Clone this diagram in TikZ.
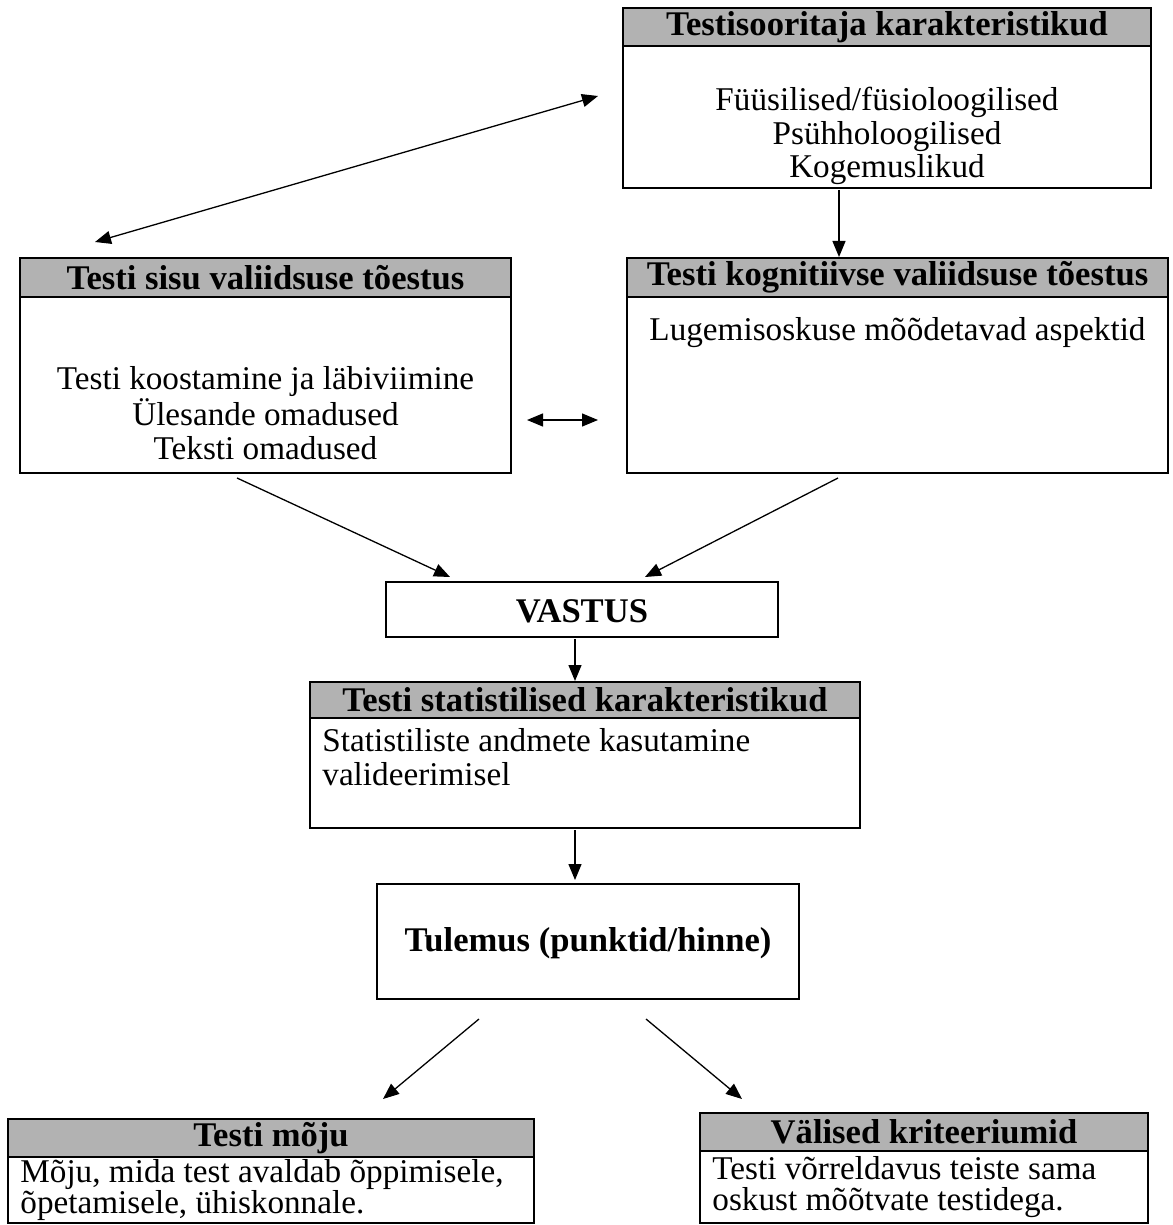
\documentclass[tikz,border=0pt]{standalone}
\usepackage{fontspec}
\setmainfont{Liberation Serif}
\usetikzlibrary{arrows.meta,fit}
\definecolor{hdrgray}{RGB}{178,178,178}
\begin{document}
\begin{tikzpicture}[x=0.5pt,y=-0.5pt,
  frame/.style={draw=black,line width=1pt,inner sep=0pt},
  hdr/.style={draw=black,fill=hdrgray,line width=1pt,inner sep=0pt},
  ttl/.style={font=\fontsize{17.3}{17}\selectfont\bfseries,inner sep=0pt},
  txt/.style={font=\fontsize{16.6}{16.9}\selectfont,align=center,inner sep=0pt},
  ltxt/.style={font=\fontsize{16.6}{16.9}\selectfont,align=left,inner sep=0pt,anchor=west},
  ntxt/.style={font=\fontsize{16.6}{15.2}\selectfont,align=left,inner sep=0pt,anchor=west},
  tip/.tip={Triangle[length=8pt,width=6.5pt]},
  conn/.style={line width=0.65pt,-tip},
  bconn/.style={line width=0.65pt,tip-tip}]
\useasboundingbox (0,0) rectangle (1172,1225);

% Testisooritaja karakteristikud
\node[frame,fit={(623,8) (1151,188)}] (A) {};
\node[hdr,fit={(623,8) (1151,46)}] (Ah) {};
\node[ttl] (At) at (Ah.center) {Testisooritaja karakteristikud};
\node[txt] (Ab) at (887,136) {Füüsilised/füsioloogilised\\Psühholoogilised\\Kogemuslikud};

% Testi sisu valiidsuse tõestus
\node[frame,fit={(20,258) (511,473)}] (B) {};
\node[hdr,fit={(20,258) (511,297)}] (Bh) {};
\node[ttl] (Bt) at (Bh.center) {Testi sisu valiidsuse tõestus};
\node[txt] (Bb) at (265.5,413) {Testi koostamine ja läbiviimine\\Ülesande omadused\\Teksti omadused};

% Testi kognitiivse valiidsuse tõestus
\node[frame,fit={(627,258) (1168,473)}] (C) {};
\node[hdr,fit={(627,258) (1168,297)}] (Ch) {};
\node[ttl] (Ct) at (Ch.center) {Testi kognitiivse valiidsuse tõestus};
\node[txt] (Cb) at (897.5,333) {Lugemisoskuse mõõdetavad aspektid};

% VASTUS
\node[frame,fit={(386,582) (778,637)}] (V) {};
\node[ttl] (Vt) at (582,611) {VASTUS};

% Testi statistilised karakteristikud
\node[frame,fit={(310,682) (860,828)}] (S) {};
\node[hdr,fit={(310,682) (860,718)}] (Sh) {};
\node[ttl] (St) at (Sh.center) {Testi statistilised karakteristikud};
\node[ltxt] (Sb) at (322,757) {Statistiliste andmete kasutamine\\valideerimisel};

% Tulemus
\node[frame,fit={(377,884) (799,999)}] (T) {};
\node[ttl] (Tt) at (588,943) {Tulemus (punktid/hinne)};

% Testi mõju
\node[frame,fit={(8,1119) (534,1223)}] (M) {};
\node[hdr,fit={(8,1119) (534,1157)}] (Mh) {};
\node[ttl] (Mt) at (Mh.center) {Testi mõju};
\node[ntxt] (Mb) at (20,1190) {Mõju, mida test avaldab õppimisele,\\õpetamisele, ühiskonnale.};

% Välised kriteeriumid
\node[frame,fit={(700,1113) (1148,1223)}] (W) {};
\node[hdr,fit={(700,1113) (1148,1151)}] (Wh) {};
\node[ttl] (Wt) at (Wh.center) {Välised kriteeriumid};
\node[ntxt] (Wb) at (712,1187) {Testi võrreldavus teiste sama\\oskust mõõtvate testidega.};

% connector end points
\coordinate (d1) at (598,96);
\coordinate (d2) at (95,242);
\coordinate (ac1) at (839,190);
\coordinate (ac2) at (839,257);
\coordinate (h1) at (527,420);
\coordinate (h2) at (598,420);
\coordinate (bv1) at (237,478);
\coordinate (bv2) at (450,577);
\coordinate (cv1) at (838,478);
\coordinate (cv2) at (645,577);
\coordinate (vs1) at (575,639);
\coordinate (vs2) at (575,681);
\coordinate (st1) at (575,830);
\coordinate (st2) at (575,880);
\coordinate (tm1) at (479,1019);
\coordinate (tm2) at (383,1099);
\coordinate (tw1) at (646,1019);
\coordinate (tw2) at (742,1099);

\draw[bconn] (d1) -- (d2);
\draw[conn] (ac1) -- (ac2);
\draw[bconn] (h1) -- (h2);
\draw[conn] (bv1) -- (bv2);
\draw[conn] (cv1) -- (cv2);
\draw[conn] (vs1) -- (vs2);
\draw[conn] (st1) -- (st2);
\draw[conn] (tm1) -- (tm2);
\draw[conn] (tw1) -- (tw2);
\end{tikzpicture}
\end{document}
